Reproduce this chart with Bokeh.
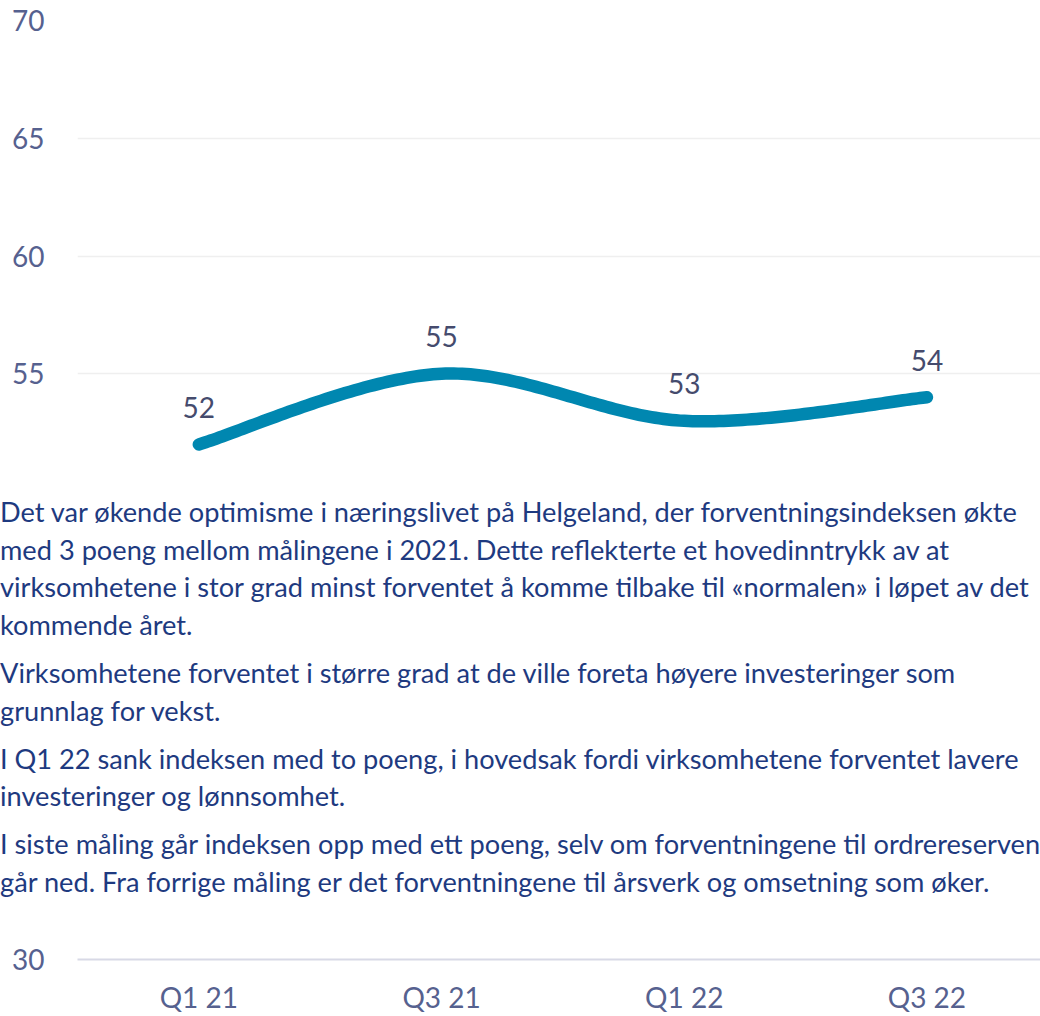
import numpy as np
from bokeh.plotting import figure
from bokeh.models import FixedTicker, Range1d, ColumnDataSource, Div
from bokeh.layouts import column
from bokeh.embed import file_html
from bokeh.resources import INLINE
from bokeh.core.properties import value

# ---------------- data ----------------
categories = ["Q1 21", "Q3 21", "Q1 22", "Q3 22"]
index_values = [52, 55, 53, 54]
upper_y_ticks = [55, 60, 65, 70]
lower_y_ticks = [30]

paragraph_1 = [
    "Det var økende optimisme i næringslivet på Helgeland, der forventningsindeksen økte",
    "med 3 poeng mellom målingene i 2021. Dette reflekterte et hovedinntrykk av at",
    "virksomhetene i stor grad minst forventet å komme tilbake til «normalen» i løpet av det",
    "kommende året.",
]
paragraph_2 = [
    "Virksomhetene forventet i større grad at de ville foreta høyere investeringer som",
    "grunnlag for vekst.",
]
paragraph_3 = [
    "I Q1 22 sank indeksen med to poeng, i hovedsak fordi virksomhetene forventet lavere",
    "investeringer og lønnsomhet.",
]
paragraph_4 = [
    "I siste måling går indeksen opp med ett poeng, selv om forventningene til ordrereserven",
    "går ned. Fra forrige måling er det forventningene til årsverk og omsetning som øker.",
]

# ---------------- layout ----------------
W = 1040
LEFT = 77
PX_PER_CAT = 242.7
PX_PER_Y = 23.55
X_START = -0.5
X_END = X_START + (W - LEFT) / PX_PER_CAT
Y_TOP = 70

TOP_H = 478          # upper chart part
TOP_BORDER = 20
DIV_H = 457          # commentary block
BOT_H = 1016 - TOP_H - DIV_H
BOT_FRAME = 34

FONT = "Lato"
TICK_COLOR = "#56618F"
LABEL_COLOR = "#454B6D"
TEXT_COLOR = "#1E3A80"
LINE_COLOR = "#0087B0"
GRID_COLOR = "#EFEFEF"
BASE_COLOR = "#D8D9E6"

x_range = Range1d(X_START, X_END)


def style_yaxis(fig, ticks):
    fig.yaxis.ticker = FixedTicker(ticks=ticks)
    fig.yaxis.axis_line_color = None
    fig.yaxis.major_tick_line_color = None
    fig.yaxis.minor_tick_line_color = None
    fig.yaxis.major_label_standoff = 27
    fig.yaxis.major_label_text_font = FONT
    fig.yaxis.major_label_text_font_size = "28px"
    fig.yaxis.major_label_text_color = TICK_COLOR


# ---- upper figure: line + labels ----
top_frame_h = TOP_H - TOP_BORDER
top = figure(
    width=W, height=TOP_H, x_range=x_range,
    y_range=Range1d(Y_TOP - top_frame_h / PX_PER_Y, Y_TOP),
    output_backend="svg", toolbar_location=None, x_axis_location=None,
    min_border_left=LEFT, min_border_right=0,
    min_border_top=TOP_BORDER, min_border_bottom=0,
)
top.outline_line_color = None
style_yaxis(top, upper_y_ticks)
top.xgrid.grid_line_color = None
top.ygrid.ticker = FixedTicker(ticks=upper_y_ticks)
top.ygrid.grid_line_color = GRID_COLOR
top.ygrid.grid_line_width = 1.5

# smoothed line (Excel-style bezier smoothing, Catmull-Rom control points)
xs = np.arange(len(index_values), dtype=float)
ys = np.array(index_values, dtype=float)
px = np.concatenate([[xs[0]], xs, [xs[-1]]])
py = np.concatenate([[ys[0]], ys, [ys[-1]]])
t = np.linspace(0, 1, 60)
cx, cy = [], []
for i in range(len(xs) - 1):
    p0 = np.array([px[i], py[i]])
    p1 = np.array([px[i + 1], py[i + 1]])
    p2 = np.array([px[i + 2], py[i + 2]])
    p3 = np.array([px[i + 3], py[i + 3]])
    c1 = p1 + (p2 - p0) / 6.0
    c2 = p2 - (p3 - p1) / 6.0
    for tt in (t if i == 0 else t[1:]):
        b = ((1 - tt) ** 3) * p1 + 3 * ((1 - tt) ** 2) * tt * c1 + 3 * (1 - tt) * tt ** 2 * c2 + tt ** 3 * p2
        cx.append(b[0])
        cy.append(b[1])
top.line(cx, cy, line_color=LINE_COLOR, line_width=12.5, line_cap="round", line_join="round")

src = ColumnDataSource(dict(x=xs, y=ys, t=[str(v) for v in index_values]))
top.text(x="x", y="y", text="t", source=src, y_offset=-37,
         text_align="center", text_baseline="middle",
         text_font=value(FONT), text_font_size="28px", text_color=LABEL_COLOR)

# ---- commentary block ----
def para(lines, last=False):
    mb = "0" if last else "10.2px"
    return f"<div style='margin:0 0 {mb} 0'>" + "<br>".join(lines) + "</div>"


html = (
    f"<div style=\"font-family:'{FONT}'; font-size:27.2px; color:{TEXT_COLOR}; "
    "line-height:37.7px; padding-top:15px; margin-left:0px; white-space:nowrap;\">"
    + para(paragraph_1) + para(paragraph_2) + para(paragraph_3) + para(paragraph_4, True)
    + "</div>"
)
div = Div(text=html, width=W, height=DIV_H, margin=0,
          styles={"overflow": "hidden", "background-color": "white"})

# ---- lower figure: base line + category axis ----
bottom = figure(
    width=W, height=BOT_H, x_range=x_range,
    y_range=Range1d(30, 30 + BOT_FRAME / PX_PER_Y),
    output_backend="svg", toolbar_location=None,
    min_border_left=LEFT, min_border_right=0,
    min_border_top=0, min_border_bottom=BOT_H - BOT_FRAME,
)
bottom.outline_line_color = None
style_yaxis(bottom, lower_y_ticks)
bottom.xgrid.grid_line_color = None
bottom.ygrid.grid_line_color = None
bottom.xaxis.ticker = FixedTicker(ticks=list(range(len(categories))))
bottom.xaxis.major_label_overrides = {i: c for i, c in enumerate(categories)}
bottom.xaxis.axis_line_color = BASE_COLOR
bottom.xaxis.axis_line_width = 2
bottom.xaxis.major_tick_line_color = None
bottom.xaxis.minor_tick_line_color = None
bottom.xaxis.major_label_standoff = 14
bottom.xaxis.major_label_text_font = FONT
bottom.xaxis.major_label_text_font_size = "28px"
bottom.xaxis.major_label_text_color = TICK_COLOR

layout = column(top, div, bottom, spacing=0)
open("out.html", "w").write(file_html(layout, INLINE))
